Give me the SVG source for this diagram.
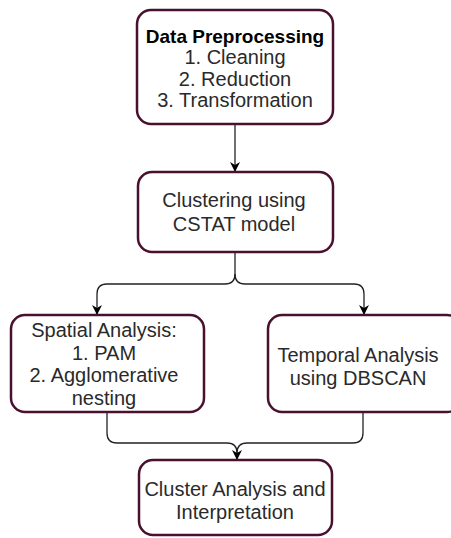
<svg xmlns="http://www.w3.org/2000/svg" width="451" height="538" viewBox="0 0 451 538">
<defs>
<style>
.box{fill:#ffffff;stroke:#4a1030;stroke-width:2.5}
.t{font-family:"Liberation Sans",Arial,sans-serif;font-size:20px;fill:#2a2a2a;text-anchor:middle}
.b{font-weight:bold;fill:#000;font-size:19px}
.c{fill:none;stroke:#222;stroke-width:1.3}
</style>
<marker id="ah" viewBox="0 0 10 10" refX="9" refY="5" markerWidth="10" markerHeight="10" markerUnits="userSpaceOnUse" orient="auto">
<path d="M0,0 L10,5 L0,10 L3,5 Z" fill="#000"/>
</marker>
</defs>
<rect width="451" height="538" fill="#fff"/>
<g id="connectors">
<path class="c" d="M235,124 V171" marker-end="url(#ah)"/>
<path class="c" d="M235,252 V274 Q235,284 225,284 H107 Q97,284 97,294 V314" marker-end="url(#ah)"/>
<path class="c" d="M235,274 Q235,284 245,284 H354 Q364,284 364,294 V314" marker-end="url(#ah)"/>
<path class="c" d="M107,412 V433 Q107,443 117,443 H227 Q237,443 237,453 V459" marker-end="url(#ah)"/>
<path class="c" d="M363,412 V433 Q363,443 353,443 H247 Q237,443 237,453"/>
</g>
<g id="preprocessing">
<rect class="box" x="137" y="10" width="196" height="114" rx="14"/>
<text class="t b" x="235" y="43">Data Preprocessing</text>
<text class="t" x="235" y="64">1. Cleaning</text>
<text class="t" x="235" y="86">2. Reduction</text>
<text class="t" x="235" y="107">3. Transformation</text>
</g>
<g id="clustering">
<rect class="box" x="138" y="172" width="195" height="80" rx="14"/>
<text class="t" x="234" y="207">Clustering using</text>
<text class="t" x="234" y="231">CSTAT model</text>
</g>
<g id="spatial">
<rect class="box" x="11" y="315" width="193" height="97" rx="14"/>
<text class="t" x="104" y="337">Spatial Analysis:</text>
<text class="t" x="104" y="360">1. PAM</text>
<text class="t" x="104" y="382">2. Agglomerative</text>
<text class="t" x="104" y="405">nesting</text>
</g>
<g id="temporal">
<rect class="box" x="268" y="315" width="193" height="97" rx="14"/>
<text class="t" x="358" y="362">Temporal Analysis</text>
<text class="t" x="358" y="385">using DBSCAN</text>
</g>
<g id="interpretation">
<rect class="box" x="139" y="460" width="193" height="75" rx="14"/>
<text class="t" x="235" y="496">Cluster Analysis and</text>
<text class="t" x="235" y="519">Interpretation</text>
</g>
</svg>
